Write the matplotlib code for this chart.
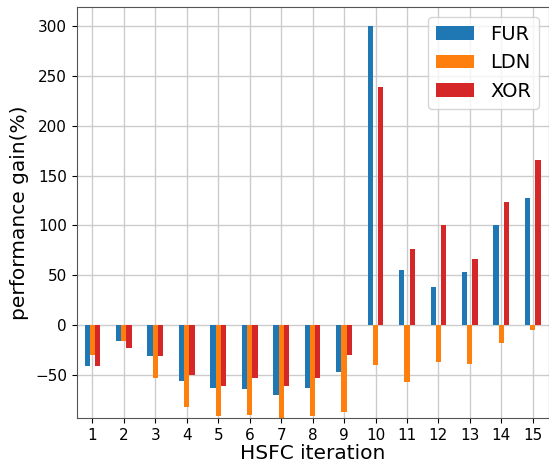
import matplotlib
matplotlib.use("Agg")
import matplotlib.pyplot as plt
import numpy as np

iterations = [str(i) for i in range(1, 16)]
fur = [-41, -16, -31, -56, -64, -65, -71, -64, -47, 300, 55, 38, 53, 100, 127]
ldn = [-30, -16, -53, -83, -92, -91, -96, -92, -88, -40, -57, -37, -39, -18, -5]
xor = [-41, -23, -31, -50, -62, -53, -62, -53, -30, 239, 76, 100, 66, 123, 166]
series = {"FUR": fur, "LDN": ldn, "XOR": xor}
colors = ["#1f77b4", "#ff7f0e", "#d62728"]

fig = plt.figure(figsize=(5.49, 4.65), dpi=100)
ax = fig.add_axes([0.1397, 0.1004, 0.8594, 0.8845])

x = np.arange(len(iterations))
w = 0.5 / 3
for i, (name, vals) in enumerate(series.items()):
    ax.bar(x + (i - 1) * w, vals, width=w, color=colors[i], label=name, zorder=2)

ax.set_xticks(x)
ax.set_xticklabels(iterations, fontsize=11)
ax.tick_params(axis="y", labelsize=11)
ax.set_xlim(-0.5, len(iterations) - 0.5)
ax.set_ylim(-94, 319.5)
ax.set_yticks([-50, 0, 50, 100, 150, 200, 250, 300])
ax.grid(True, color="#cccccc", linewidth=1.0, zorder=0)
ax.set_axisbelow(True)
ax.set_xlabel("HSFC iteration", fontsize=14.5, labelpad=1)
ax.set_ylabel("performance gain(%)", fontsize=14.5)
ax.legend(loc="upper right", fontsize=14)
for s in ax.spines.values():
    s.set_color("#555555")

fig.savefig("out.png", dpi=100)
